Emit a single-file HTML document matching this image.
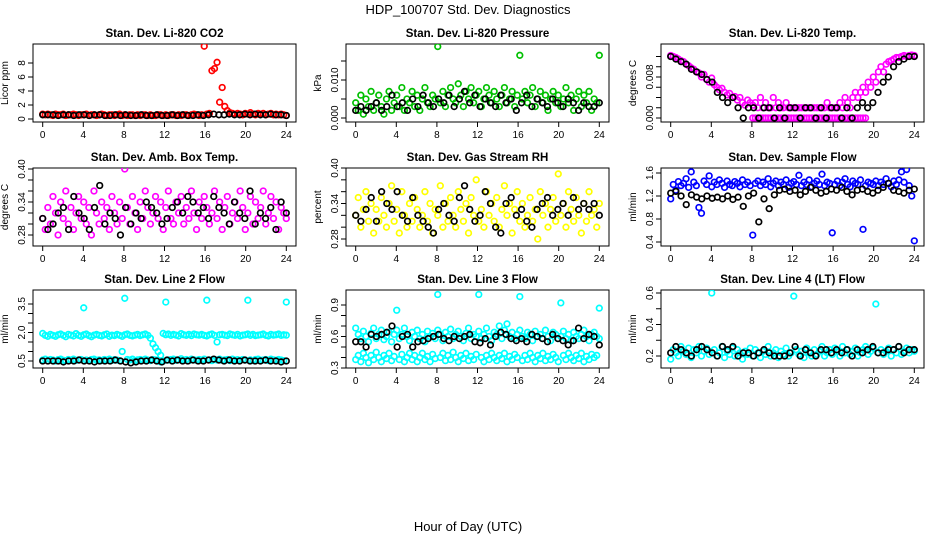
<!DOCTYPE html>
<html><head><meta charset="utf-8"><style>
body{margin:0;background:#fff}
svg{display:block;font-family:"Liberation Sans",sans-serif}
</style></head><body>
<svg id="c" width="936" height="540">
<text x="468" y="14" text-anchor="middle" font-size="13">HDP_100707  Std. Dev. Diagnostics</text>
<text x="468" y="531" text-anchor="middle" font-size="13">Hour of Day (UTC)</text>
</svg>
<script>
const xTicks=[0,4,8,12,16,20,24];
const co2Color=[0.7,0.6,0.7,0.6,0.5,0.7,0.6,0.6,0.7,0.5,0.6,0.6,0.7,0.6,0.5,0.6,0.6,0.7,0.5,0.6,0.6,0.5,0.6,0.7,0.6,0.5,0.6,0.6,0.5,0.6,0.7,0.5,0.6,0.5,0.6,0.6,0.5,0.6,0.5,0.6,0.6,0.5,0.6,0.5,0.5,0.6,0.6,0.5,0.6,0.5,0.6,0.6,0.5,0.6,0.5,0.6,0.6,0.5,0.6,0.7,0.6,0.5,0.6,10.4,0.7,0.8,6.9,7.2,8.1,2.4,4.5,1.8,1.2,0.9,0.8,0.7,0.8,0.7,0.6,0.8,0.7,0.9,0.7,0.6,0.8,0.7,0.8,0.6,0.7,0.8,0.6,0.7,0.6,0.7,0.6,0.5];
const co2Black=[0.6,0.6,0.6,0.5,0.6,0.6,0.5,0.6,0.6,0.5,0.6,0.6,0.5,0.5,0.6,0.5,0.6,0.5,0.5,0.6,0.5,0.5,0.6,0.5,0.5,0.6,0.5,0.6,0.5,0.5,0.6,0.5,0.6,0.7,0.6,0.6,0.7,0.6,0.6,0.7,0.6,0.7,0.6,0.6,0.7,0.6,0.6,0.5];
const presColor=[0.004,0.002,0.006,0.001,0.005,0.003,0.007,0.002,0.004,0.006,0.003,0.001,0.005,0.007,0.002,0.004,0.006,0.003,0.008,0.002,0.005,0.004,0.007,0.003,0.006,0.002,0.005,0.008,0.004,0.003,0.006,0.005,0.0188,0.004,0.007,0.003,0.006,0.008,0.005,0.004,0.009,0.006,0.003,0.007,0.005,0.008,0.004,0.006,0.007,0.003,0.005,0.008,0.006,0.004,0.007,0.005,0.003,0.006,0.008,0.004,0.005,0.007,0.003,0.006,0.0165,0.005,0.007,0.004,0.006,0.008,0.003,0.005,0.007,0.004,0.006,0.002,0.005,0.007,0.004,0.006,0.003,0.005,0.008,0.004,0.006,0.002,0.005,0.007,0.003,0.006,0.004,0.007,0.002,0.005,0.004,0.0165];
const presBlack=[0.002,0.003,0.002,0.003,0.004,0.002,0.003,0.006,0.003,0.004,0.002,0.005,0.003,0.006,0.004,0.003,0.005,0.004,0.006,0.003,0.005,0.007,0.004,0.006,0.003,0.005,0.004,0.003,0.006,0.004,0.005,0.002,0.004,0.006,0.003,0.005,0.004,0.003,0.005,0.004,0.003,0.005,0.004,0.002,0.004,0.003,0.003,0.004];
const tempColor=[0.0122,0.0120,0.0118,0.0115,0.0112,0.0110,0.0105,0.0102,0.0098,0.0095,0.0090,0.0088,0.0080,0.0085,0.0075,0.0070,0.0078,0.0065,0.0060,0.0055,0.0058,0.0050,0.0045,0.0048,0.0040,0.0042,0.0035,0.0040,0.0030,0.0025,0.0035,0.0030,0.0025,0.003,0.002,0.004,0.002,0.003,0.002,0.002,0.004,0.002,0.003,0.002,0.002,0.003,0.002,0.002,0.002,0.002,0.002,0.002,0.002,0.002,0.002,0.002,0.002,0.002,0.002,0.002,0.002,0.003,0.002,0.002,0.002,0.002,0.003,0.002,0.004,0.003,0.002,0.004,0.005,0.004,0.005,0.006,0.005,0.007,0.006,0.008,0.007,0.009,0.010,0.009,0.0105,0.011,0.0112,0.0115,0.0118,0.0118,0.012,0.0122,0.0120,0.0122,0.0123,0.0122];
const tempZero=[null,null,null,null,null,null,null,null,null,null,null,null,null,null,null,null,null,null,null,null,null,null,null,null,null,null,null,null,null,null,null,null,0,0,0,0,0,0,0,0,0,0,0,0,0,0,0,0,0,0,0,0,0,0,0,0,0,0,0,0,0,0,0,0,0,0,0,0,0,0,0,0,0,0,0,0,0,null,null,null,null,null,null,null,null,null,null,null,null,null,null,null,null,null,null,null];
const tempBlack=[0.012,0.0115,0.011,0.0105,0.0095,0.009,0.0085,0.0075,0.007,0.005,0.004,0.003,0.004,0.002,0.0,0.002,0.002,0.0,0.002,0.002,0.0,0.002,0.0,0.002,0.002,0.0,0.002,0.002,0.0,0.002,0.0,0.002,0.002,0.0,0.002,0.0,0.002,0.003,0.002,0.003,0.005,0.007,0.008,0.010,0.011,0.0115,0.012,0.012];
const boxColor=[0.31,0.29,0.33,0.30,0.35,0.32,0.28,0.34,0.31,0.36,0.30,0.33,0.29,0.32,0.35,0.31,0.34,0.30,0.33,0.28,0.36,0.32,0.30,0.34,0.31,0.33,0.29,0.35,0.32,0.30,0.34,0.31,0.40,0.33,0.30,0.35,0.32,0.29,0.34,0.31,0.36,0.33,0.30,0.32,0.35,0.31,0.34,0.29,0.33,0.36,0.31,0.30,0.34,0.32,0.35,0.30,0.33,0.31,0.36,0.32,0.29,0.34,0.31,0.35,0.33,0.30,0.32,0.36,0.31,0.34,0.29,0.33,0.35,0.30,0.32,0.34,0.31,0.36,0.33,0.29,0.32,0.35,0.30,0.34,0.31,0.33,0.36,0.30,0.32,0.35,0.31,0.34,0.29,0.33,0.32,0.31];
const boxBlack=[0.31,0.29,0.30,0.32,0.33,0.29,0.35,0.32,0.31,0.29,0.33,0.37,0.30,0.32,0.31,0.28,0.33,0.30,0.32,0.31,0.34,0.33,0.32,0.30,0.31,0.33,0.34,0.32,0.35,0.34,0.32,0.33,0.31,0.35,0.33,0.32,0.30,0.34,0.32,0.31,0.36,0.30,0.32,0.31,0.33,0.29,0.34,0.32];
const rhColor=[0.32,0.35,0.30,0.33,0.36,0.31,0.34,0.29,0.33,0.31,0.35,0.32,0.30,0.34,0.37,0.31,0.33,0.29,0.36,0.32,0.30,0.34,0.31,0.35,0.33,0.30,0.32,0.36,0.31,0.34,0.29,0.33,0.32,0.37,0.30,0.34,0.31,0.35,0.32,0.30,0.36,0.33,0.31,0.34,0.29,0.35,0.32,0.38,0.31,0.33,0.30,0.36,0.32,0.34,0.31,0.35,0.30,0.33,0.37,0.32,0.34,0.29,0.33,0.36,0.31,0.34,0.30,0.32,0.35,0.31,0.33,0.28,0.36,0.32,0.34,0.30,0.33,0.35,0.31,0.39,0.32,0.34,0.30,0.36,0.33,0.31,0.35,0.32,0.29,0.34,0.31,0.36,0.32,0.33,0.30,0.34];
const rhBlack=[0.32,0.31,0.33,0.35,0.31,0.36,0.34,0.33,0.36,0.32,0.31,0.35,0.32,0.31,0.30,0.29,0.33,0.34,0.32,0.31,0.35,0.37,0.33,0.31,0.32,0.36,0.34,0.30,0.29,0.34,0.35,0.32,0.33,0.31,0.30,0.33,0.34,0.35,0.32,0.33,0.34,0.32,0.35,0.33,0.34,0.33,0.34,0.32];
const sfColor=[1.15,1.40,1.30,1.45,1.38,1.42,1.50,1.35,1.62,1.44,1.38,1.00,0.90,1.46,1.40,1.55,1.36,1.44,1.40,1.48,1.42,1.35,1.46,1.40,1.38,1.45,1.42,1.36,1.48,1.40,1.44,1.38,0.52,1.42,1.46,1.38,1.44,1.40,1.50,1.36,1.42,1.46,1.38,1.44,1.40,1.48,1.35,1.42,1.45,1.40,1.56,1.38,1.44,1.40,1.48,1.36,1.42,1.46,1.40,1.58,1.38,1.44,1.42,0.56,1.40,1.46,1.38,1.44,1.50,1.40,1.36,1.46,1.42,1.40,1.48,0.62,1.38,1.44,1.42,1.40,1.46,1.38,1.44,1.40,1.50,1.42,1.36,1.46,1.40,1.48,1.62,1.44,1.66,1.38,1.20,0.42];
const sfBlack=[1.25,1.28,1.20,1.05,1.22,1.18,1.15,1.20,1.16,1.18,1.15,1.20,1.14,1.18,1.02,1.20,1.25,0.75,1.15,0.98,1.22,1.30,1.32,1.28,1.30,1.22,1.28,1.35,1.30,1.25,1.28,1.32,1.30,1.35,1.28,1.22,1.30,1.32,1.28,1.25,1.30,1.35,1.42,1.30,1.28,1.25,1.30,1.32];
const l2Upper=[1.95,1.85,1.80,1.90,1.85,1.80,1.88,1.92,1.85,1.78,1.90,1.86,1.82,1.94,1.85,1.80,1.88,1.92,1.84,1.78,1.86,1.90,1.85,1.82,1.88,1.92,1.80,1.86,1.84,1.90,1.85,1.80,1.88,1.92,1.85,1.82,1.86,1.90,1.84,1.88,1.92,1.85,1.70,1.40,1.20,1.00,0.80,1.95,1.88,1.92,1.85,1.90,1.86,1.82,1.94,1.88,1.85,1.90,1.84,1.92,1.88,1.86,1.90,1.85,1.82,1.88,1.92,1.85,1.50,1.88,1.90,1.86,1.84,1.92,1.88,1.85,1.90,1.82,1.86,1.88,1.92,1.85,1.90,1.84,1.86,1.88,1.92,1.85,1.82,1.90,1.86,1.88,1.92,1.85,1.88,1.86];
const l2Lower=[0.55,0.60,0.52,0.58,0.55,0.50,0.57,0.60,0.54,0.52,0.58,0.55,0.60,0.53,0.56,0.58,3.30,0.55,0.52,0.58,0.60,0.54,0.56,0.52,0.58,0.55,0.60,0.53,0.57,0.55,0.52,1.00,3.80,0.58,0.55,0.60,0.52,0.56,0.58,0.54,0.60,0.55,0.52,0.58,0.56,0.50,0.45,0.50,3.60,0.55,0.58,0.60,0.54,0.56,0.62,0.55,0.58,0.52,0.60,0.56,0.54,0.58,0.55,0.60,3.70,0.56,0.52,0.58,0.55,0.60,0.54,0.56,0.58,0.52,0.60,0.55,0.57,0.53,0.58,0.55,3.70,0.56,0.52,0.58,0.60,0.54,0.55,0.58,0.52,0.60,0.56,0.54,0.58,0.55,0.52,3.60];
const l2Black=[0.5,0.5,0.5,0.5,0.45,0.5,0.5,0.55,0.5,0.5,0.45,0.5,0.5,0.5,0.55,0.5,0.45,0.4,0.45,0.5,0.5,0.55,0.5,0.45,0.55,0.5,0.55,0.5,0.5,0.55,0.5,0.5,0.55,0.6,0.55,0.5,0.55,0.5,0.5,0.55,0.5,0.5,0.5,0.55,0.5,0.5,0.45,0.5];
const l3Upper=[0.68,0.62,0.58,0.65,0.60,0.55,0.63,0.68,0.58,0.62,0.66,0.57,0.60,0.64,0.55,0.62,0.66,0.58,0.62,0.68,0.60,0.56,0.64,0.60,0.66,0.58,0.62,0.55,0.65,0.60,0.63,0.58,0.66,0.62,0.56,0.64,0.60,0.67,0.58,0.62,0.65,0.60,0.56,0.63,0.68,0.58,0.62,0.60,0.65,0.58,0.62,0.68,0.60,0.56,0.64,0.62,0.70,0.58,0.66,0.72,0.60,0.64,0.58,0.62,0.66,0.60,0.58,0.64,0.62,0.56,0.65,0.60,0.62,0.58,0.66,0.60,0.56,0.64,0.62,0.58,0.60,0.65,0.58,0.62,0.56,0.64,0.60,0.58,0.62,0.66,0.60,0.56,0.62,0.64,0.60,0.58];
const l3Lower=[0.38,0.42,0.36,0.44,0.40,0.35,0.42,0.38,0.45,0.40,0.36,0.42,0.39,0.44,0.37,0.41,0.85,0.38,0.43,0.36,0.40,0.44,0.38,0.42,0.36,0.40,0.44,0.38,0.41,0.36,0.43,0.39,1.00,0.40,0.44,0.37,0.42,0.38,0.45,0.40,0.36,0.42,0.39,0.44,0.37,0.41,0.38,0.43,1.00,0.40,0.36,0.42,0.38,0.44,0.40,0.37,0.42,0.39,0.44,0.36,0.41,0.38,0.43,0.40,0.98,0.37,0.42,0.38,0.44,0.40,0.36,0.42,0.39,0.44,0.37,0.41,0.38,0.43,0.40,0.36,0.92,0.42,0.38,0.44,0.40,0.37,0.42,0.39,0.44,0.36,0.41,0.38,0.43,0.40,0.42,0.87];
const l3Black=[0.55,0.55,0.50,0.62,0.60,0.62,0.64,0.70,0.50,0.60,0.62,0.50,0.55,0.56,0.58,0.60,0.62,0.58,0.56,0.60,0.58,0.60,0.62,0.55,0.54,0.58,0.52,0.60,0.64,0.62,0.58,0.56,0.58,0.55,0.62,0.60,0.58,0.55,0.62,0.58,0.56,0.52,0.56,0.68,0.58,0.62,0.60,0.52];
const l4Color=[0.18,0.24,0.22,0.20,0.26,0.23,0.21,0.25,0.19,0.24,0.22,0.26,0.20,0.23,0.25,0.21,0.60,0.24,0.20,0.22,0.26,0.19,0.23,0.21,0.25,0.20,0.24,0.22,0.18,0.23,0.21,0.25,0.20,0.24,0.22,0.19,0.23,0.21,0.26,0.20,0.22,0.24,0.19,0.23,0.21,0.25,0.20,0.22,0.58,0.24,0.21,0.23,0.19,0.25,0.22,0.20,0.24,0.21,0.23,0.26,0.20,0.22,0.24,0.21,0.25,0.23,0.20,0.26,0.22,0.24,0.21,0.23,0.25,0.20,0.22,0.24,0.26,0.21,0.23,0.25,0.53,0.22,0.24,0.21,0.23,0.25,0.20,0.24,0.22,0.26,0.21,0.23,0.25,0.22,0.24,0.23];
const l4Black=[0.22,0.26,0.24,0.22,0.20,0.24,0.26,0.24,0.22,0.20,0.26,0.24,0.26,0.20,0.22,0.22,0.20,0.22,0.24,0.22,0.20,0.20,0.20,0.22,0.26,0.20,0.24,0.22,0.20,0.24,0.24,0.22,0.24,0.22,0.24,0.20,0.24,0.22,0.24,0.26,0.22,0.22,0.24,0.24,0.26,0.22,0.24,0.24];

const panels=[
 {name:'co2',title:'Stan. Dev. Li-820 CO2',ylab:'Licor ppm',col:0,row:0,v0:0,p0:119,v1:8,p1:63,ticks:[0,2,4,6,8],labels:['0','2','4','6','8'],color:'#ff0000',series:[co2Color],black:co2Black},
 {name:'pressure',title:'Stan. Dev. Li-820 Pressure',ylab:'kPa',col:1,row:0,v0:0,p0:118,v1:0.01,p1:80,ticks:[0,0.005,0.01,0.015],labels:['0.000','','0.010',''],color:'#00c000',series:[presColor],black:presBlack},
 {name:'temp',title:'Stan. Dev. Li-820 Temp.',ylab:'degrees C',col:2,row:0,v0:0,p0:118,v1:0.008,p1:77,ticks:[0,0.002,0.004,0.006,0.008,0.01,0.012],labels:['0.000','','','','0.008','',''],color:'#ff00ff',series:[tempColor,tempZero],black:tempBlack},
 {name:'box-temp',title:'Stan. Dev. Amb. Box Temp.',ylab:'degrees C',col:0,row:1,v0:0.28,p0:235,v1:0.40,p1:169,ticks:[0.28,0.30,0.32,0.34,0.36,0.38,0.40],labels:['0.28','','','0.34','','','0.40'],color:'#ff00ff',series:[boxColor],black:boxBlack},
 {name:'gas-rh',title:'Stan. Dev. Gas Stream RH',ylab:'percent',col:1,row:1,v0:0.28,p0:239,v1:0.40,p1:168,ticks:[0.28,0.30,0.32,0.34,0.36,0.38,0.40],labels:['0.28','','','0.34','','','0.40'],color:'#ffff00',series:[rhColor],black:rhBlack},
 {name:'sample-flow',title:'Stan. Dev. Sample Flow',ylab:'ml/min',col:2,row:1,v0:0.4,p0:242,v1:1.6,p1:173,ticks:[0.4,0.8,1.2,1.6],labels:['0.4','0.8','1.2','1.6'],color:'#0000ff',series:[sfColor],black:sfBlack},
 {name:'line2-flow',title:'Stan. Dev. Line 2 Flow',ylab:'ml/min',col:0,row:2,v0:0.5,p0:361,v1:3.5,p1:304,ticks:[0.5,1,1.5,2,2.5,3,3.5],labels:['0.5','','','2.0','','','3.5'],color:'#00ffff',series:[l2Upper,l2Lower],black:l2Black},
 {name:'line3-flow',title:'Stan. Dev. Line 3 Flow',ylab:'ml/min',col:1,row:2,v0:0.3,p0:368,v1:0.9,p1:305,ticks:[0.3,0.4,0.5,0.6,0.7,0.8,0.9],labels:['0.3','','','0.6','','','0.9'],color:'#00ffff',series:[l3Upper,l3Lower],black:l3Black},
 {name:'line4-flow',title:'Stan. Dev. Line 4 (LT) Flow',ylab:'ml/min',col:2,row:2,v0:0.2,p0:356,v1:0.6,p1:293,ticks:[0.2,0.3,0.4,0.5,0.6],labels:['0.2','','0.4','','0.6'],color:'#00ffff',series:[l4Color],black:l4Black}
];
const NS='http://www.w3.org/2000/svg';
const svg=document.getElementById('c');
function mk(tag,attrs,parent){const e=document.createElementNS(NS,tag);for(const k in attrs)e.setAttribute(k,attrs[k]);(parent||svg).appendChild(e);return e;}
const lefts=[33,346,661],tops=[44,168,290];
panels.forEach(p=>{
 const L=lefts[p.col],T=tops[p.row],W=263,H=78;
 const g=mk('g',{});
 
 
 const xs=h=>L+9.7+h*(W-19.4)/24;
 const ys=v=>p.p0+(v-p.v0)*(p.p1-p.p0)/(p.v1-p.v0);
 const t=mk('text',{x:L+W/2,y:T-7,'text-anchor':'middle','font-size':11.5,'font-weight':'bold'},g);t.textContent=p.title;
 
 
 const yl=mk('text',{transform:`translate(${L-25},${T+H/2}) rotate(-90)`,'text-anchor':'middle','font-size':10},g);yl.textContent=p.ylab;
 
 
 const xa=mk('g',{},g);
 
 
 mk('line',{x1:xs(0),x2:xs(24),y1:T+H,y2:T+H,stroke:'#000'},xa);
 xTicks.forEach(h=>{mk('line',{x1:xs(h),x2:xs(h),y1:T+H,y2:T+H+5,stroke:'#000'},xa);
  const tl=mk('text',{x:xs(h),y:T+H+16,'text-anchor':'middle','font-size':10},xa);tl.textContent=h;
  
  });
 const ya=mk('g',{},g);
 
 
 mk('line',{x1:L,x2:L,y1:ys(p.ticks[0]),y2:ys(p.ticks[p.ticks.length-1]),stroke:'#000'},ya);
 p.ticks.forEach((v,i)=>{mk('line',{x1:L-5,x2:L,y1:ys(v),y2:ys(v),stroke:'#000'},ya);
  if(p.labels[i]){const tl=mk('text',{transform:`translate(${L-8},${ys(v)}) rotate(-90)`,'text-anchor':'middle','font-size':10},ya);tl.textContent=p.labels[i];
  
  }});
 mk('rect',{x:L,y:T,width:W,height:H,fill:'none',stroke:'#000'},g);
 const clip='clip'+p.name;
 const cp=mk('clipPath',{id:clip},g);mk('rect',{x:L,y:T,width:W,height:H},cp);
 const pts=mk('g',{'clip-path':`url(#${clip})`,fill:'none','stroke-width':1.7},g);
 p.series.forEach(arr=>arr.forEach((v,i)=>{if(v===null)return;
  const c=mk('circle',{cx:xs(i*24/(arr.length-1)),cy:ys(v),r:2.8,stroke:p.color},pts);
  
  }));
 p.black.forEach((v,i)=>{
  const c=mk('circle',{cx:xs(i*24/(p.black.length-1)),cy:ys(v),r:2.8,stroke:'#000'},pts);
  
  });
});
</script>
</body></html>
